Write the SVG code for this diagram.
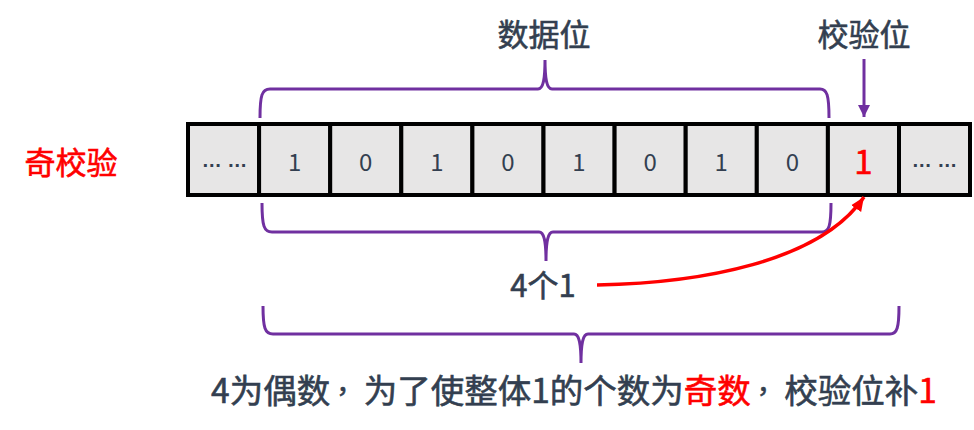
<svg xmlns="http://www.w3.org/2000/svg" width="974" height="430" viewBox="0 0 974 430">
<style>
.cell{fill:#E7E6E6;stroke:#000;stroke-width:4}
.t{font-family:"Noto Sans CJK SC","Noto Sans",sans-serif;fill:#333F50;stroke:#333F50;stroke-width:0.6}
.d{font-size:24px;text-anchor:middle;dominant-baseline:central;stroke-width:0}
.lbl{font-size:31px;text-anchor:middle;dominant-baseline:central}
.red{fill:#FF0000;stroke:#FF0000}
.cm{font-size:27px}
.brace{fill:none;stroke:#7030A0;stroke-width:3}
.dots{font-family:"Liberation Sans",sans-serif;font-size:20px;font-weight:bold;fill:#333F50;text-anchor:middle}
</style>
<defs>
<marker id="ap" markerUnits="userSpaceOnUse" markerWidth="14" markerHeight="14" refX="12" refY="7" orient="auto">
<path d="M0,1 L12,7 L0,13 Z" fill="#7030A0"/>
</marker>
<marker id="ar" markerUnits="userSpaceOnUse" markerWidth="16" markerHeight="14" refX="14" refY="7" orient="auto">
<path d="M0,1 L14,7 L0,13 Z" fill="#FF0000"/>
</marker>
</defs>
<g id="label-odd"><text class="t red" x="71" y="160" font-size="31" text-anchor="middle" dominant-baseline="central">奇校验</text></g>
<g id="label-data"><text class="t lbl" x="544" y="32">数据位</text></g>
<g id="label-check"><text class="t lbl" x="864" y="32">校验位</text></g>
<g id="array">
<g id="c0"><rect class="cell" x="188" y="124" width="71.1" height="71"/><text class="dots" x="224.5" y="167">… …</text></g>
<g id="c1"><rect class="cell" x="259.1" y="124" width="71.1" height="71"/><text class="t d" x="294.6" y="160">1</text></g>
<g id="c2"><rect class="cell" x="330.2" y="124" width="71.1" height="71"/><text class="t d" x="365.7" y="160">0</text></g>
<g id="c3"><rect class="cell" x="401.3" y="124" width="71.1" height="71"/><text class="t d" x="436.8" y="160">1</text></g>
<g id="c4"><rect class="cell" x="472.4" y="124" width="71.1" height="71"/><text class="t d" x="507.9" y="160">0</text></g>
<g id="c5"><rect class="cell" x="543.5" y="124" width="71.1" height="71"/><text class="t d" x="579" y="160">1</text></g>
<g id="c6"><rect class="cell" x="614.6" y="124" width="71.1" height="71"/><text class="t d" x="650.1" y="160">0</text></g>
<g id="c7"><rect class="cell" x="685.7" y="124" width="71.1" height="71"/><text class="t d" x="721.2" y="160">1</text></g>
<g id="c8"><rect class="cell" x="756.8" y="124" width="71.1" height="71"/><text class="t d" x="792.3" y="160">0</text></g>
<g id="c9"><rect class="cell" x="827.9" y="124" width="71.1" height="71"/><text class="t red" x="863.4" y="160" font-size="33" text-anchor="middle" dominant-baseline="central" stroke-width="0">1</text></g>
<g id="c10"><rect class="cell" x="899" y="124" width="71" height="71"/><text class="dots" x="934.5" y="167">… …</text></g>
</g>
<g id="label-count"><text class="t lbl" x="543" y="283">4个1</text></g>
<g id="label-bottom"><text class="t" x="574" y="388" font-size="33.5" text-anchor="middle" dominant-baseline="central">4为偶数<tspan class="cm" dx="6" dy="-7">，</tspan><tspan dx="0.5" dy="7">为了使整体1的个数为</tspan><tspan class="red">奇数</tspan><tspan class="cm" dx="6" dy="-7">，</tspan><tspan dx="0.5" dy="7">校验位补</tspan><tspan class="red">1</tspan></text></g>
<g id="connectors">
<path class="brace" d="M260,118 C260,95 262,89 270,89 L538,89 C543,89 545,80 545,60 C545,80 547,89 552,89 L820,89 C827,89 829,95 829,118"/>
<path class="brace" d="M262,203 C262,226 264,232 272,232 L539,232 C544,232 546,241 546,261 C546,241 548,232 553,232 L822,232 C829,232 831,226 831,203"/>
<path class="brace" d="M263,306 C263,328 265,334 273,334 L574,334 C579,334 581,343 581,363 C581,343 583,334 588,334 L890,334 C897,334 899,328 899,306"/>
<line x1="864" y1="59" x2="864" y2="117" stroke="#7030A0" stroke-width="3" marker-end="url(#ap)"/>
<path d="M597,285 C700,283 820,262 864,197" fill="none" stroke="#FF0000" stroke-width="3.5" marker-end="url(#ar)"/>
</g>
</svg>
